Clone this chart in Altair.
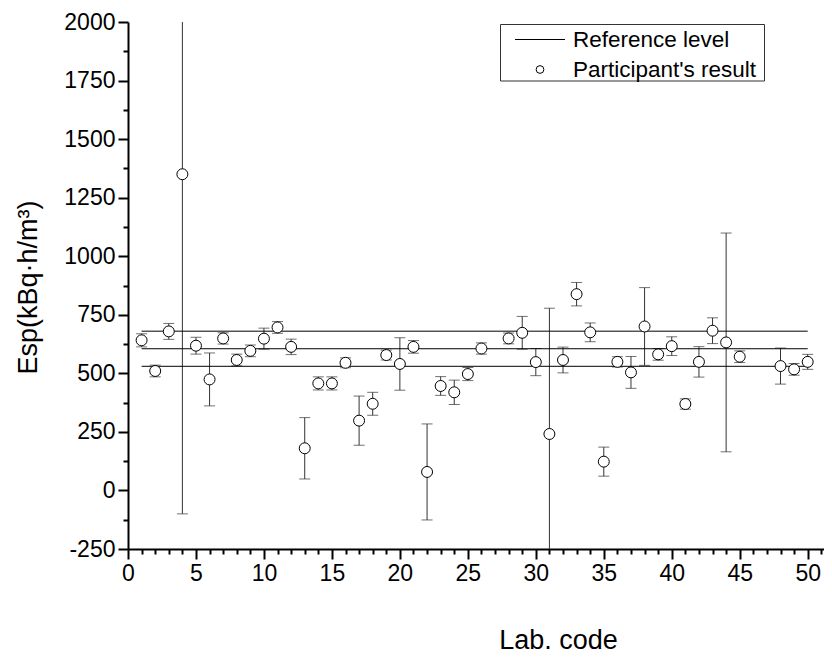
import altair as alt
import pandas as pd

# ---- data ----
lab_code = [1, 2, 3, 4, 5, 6, 7, 8, 9, 10,
            11, 12, 13, 14, 15, 16, 17, 18, 19, 20,
            21, 22, 23, 24, 25, 26, 28, 29, 30,
            31, 32, 33, 34, 35, 36, 37, 38, 39, 40,
            41, 42, 43, 44, 45, 48, 49, 50]
esp_value = [641, 510, 679, 1350, 618, 474, 649, 557, 596, 648,
             696, 613, 180, 457, 457, 545, 298, 370, 578, 540,
             613, 79, 446, 419, 497, 606, 649, 673, 548,
             241, 557, 838, 675, 123, 549, 504, 700, 581, 616,
             369, 549, 682, 632, 571, 531, 517, 549]
esp_uncert = [28, 25, 34, 1450, 36, 113, 24, 25, 25, 45,
              25, 33, 131, 28, 28, 21, 105, 49, 21, 112,
              27, 205, 40, 52, 28, 24, 23, 70, 58,
              537, 55, 50, 40, 62, 22, 68, 166, 25, 40,
              22, 65, 55, 467, 25, 77, 25, 32]

ref_levels = [530, 605, 680]
ref_from = 1
ref_to = 50

legend_labels = ["Reference level", "Participant's result"]

x_title = "Lab. code"
y_title = "Esp(kBq·h/m³)"

FONT = "Liberation Sans"

df = pd.DataFrame({"lab": lab_code, "esp": esp_value, "u": esp_uncert})
df["lo"] = df["esp"] - df["u"]
df["hi"] = df["esp"] + df["u"]

ref_df = pd.DataFrame({"level": ref_levels,
                       "x0": [ref_from] * len(ref_levels),
                       "x1": [ref_to] * len(ref_levels)})

xscale = alt.Scale(domain=[0, 51.2], nice=False, zero=False)
yscale = alt.Scale(domain=[-250, 2000], nice=False, zero=False)

xaxis = alt.Axis(
    values=list(range(0, 52)),
    labelExpr="datum.value % 5 === 0 ? '' + datum.value : ''",
    tickSize={"condition": {"test": "datum.value % 5 === 0", "value": 10}, "value": 5},
    labelOverlap=False, labelFlush=False, labelBound=False, grid=False,
    title=x_title, titleX=430, titleY=99,
    titleAlign="center", titleBaseline="alphabetic",
)
yaxis = alt.Axis(
    values=list(range(-250, 2001, 125)),
    labelExpr="datum.value % 250 === 0 ? '' + datum.value : ''",
    tickSize={"condition": {"test": "datum.value % 250 === 0", "value": 10}, "value": 5},
    labelOverlap=False, labelFlush=False, labelBound=False, grid=False,
    title=y_title, titleX=-100, titleY=265, titleAngle=-90,
    titleAlign="center", titleBaseline="middle",
)

base = alt.Chart(df)

bars = base.mark_rule(color="#333333", strokeWidth=1, clip=True).encode(
    x=alt.X("lab:Q", scale=xscale, axis=xaxis),
    y=alt.Y("lo:Q", scale=yscale, axis=yaxis),
    y2="hi:Q",
)
caps_lo = base.mark_tick(orient="horizontal", size=11, thickness=1,
                         color="#333333", clip=True).encode(
    x=alt.X("lab:Q", scale=xscale, axis=xaxis),
    y=alt.Y("lo:Q", scale=yscale, axis=yaxis))
caps_hi = base.mark_tick(orient="horizontal", size=11, thickness=1,
                         color="#333333", clip=True).encode(
    x=alt.X("lab:Q", scale=xscale, axis=xaxis),
    y=alt.Y("hi:Q", scale=yscale, axis=yaxis))

refs = alt.Chart(ref_df).mark_rule(color="black", strokeWidth=1).encode(
    x=alt.X("x0:Q", scale=xscale, axis=xaxis), x2="x1:Q",
    y=alt.Y("level:Q", scale=yscale, axis=yaxis))

points = base.mark_point(shape="circle", size=120, filled=False, fill="white",
                         fillOpacity=1, stroke="black", strokeWidth=1,
                         opacity=1).encode(
    x=alt.X("lab:Q", scale=xscale, axis=xaxis),
    y=alt.Y("esp:Q", scale=yscale, axis=yaxis))

# ---- legend (drawn as decoration) ----
one = pd.DataFrame({"k": [0]})
leg_box = alt.Chart(one).mark_rect(fill="white", stroke="#333333", strokeWidth=1).encode(
    x=alt.value(372.5), x2=alt.value(636.5), y=alt.value(2.5), y2=alt.value(59))
leg_line = alt.Chart(one).mark_rule(color="black", strokeWidth=1).encode(
    x=alt.value(387), x2=alt.value(437), y=alt.value(17.5))
leg_pt = alt.Chart(one).mark_point(shape="circle", size=60, filled=False, fill="white",
                                   fillOpacity=1, stroke="black", strokeWidth=1,
                                   opacity=1).encode(
    x=alt.value(412), y=alt.value(47.5))
leg_t1 = alt.Chart(one).mark_text(align="left", baseline="middle", font=FONT,
                                  fontSize=22.5, color="black").encode(
    x=alt.value(445), y=alt.value(18), text=alt.value(legend_labels[0]))
leg_t2 = alt.Chart(one).mark_text(align="left", baseline="middle", font=FONT,
                                  fontSize=22.5, color="black").encode(
    x=alt.value(445), y=alt.value(48), text=alt.value(legend_labels[1]))

chart = alt.layer(
    bars, caps_lo, caps_hi, refs, points,
    leg_box, leg_line, leg_pt, leg_t1, leg_t2,
).properties(
    width=696, height=527,
    background="white",
    autosize=alt.AutoSizeParams(type="none"),
    padding={"left": 120, "top": 14, "right": 0, "bottom": 105},
).configure_view(
    stroke=None
).configure_axis(
    domainColor="black", domainWidth=2, tickColor="black", tickWidth=2,
    labelOverlap=False, labelFlush=False,
    labelFont=FONT, labelFontSize=23, labelColor="black", labelPadding=3,
    titleFont=FONT, titleFontSize=27, titleFontWeight="normal", titleColor="black",
)

chart.save("out.html", embed_options={"renderer": "svg", "actions": False})
